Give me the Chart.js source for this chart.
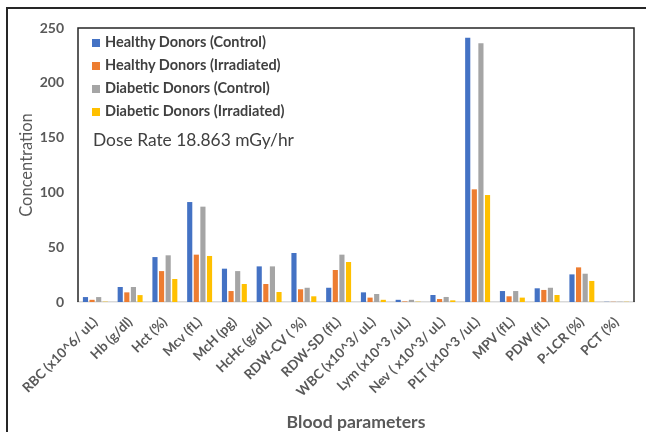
<!DOCTYPE html>
<html>
<head>
<meta charset="utf-8">
<script src="https://cdn.jsdelivr.net/npm/chart.js@4.4.1/dist/chart.umd.min.js"></script>
<style>
  html, body { margin: 0; padding: 0; background: #fff; }
  #wrap { position: relative; width: 646px; height: 432px; overflow: hidden; font-family: Lato, sans-serif; }
  #frame { position: absolute; left: 6px; top: 7px; width: 700px; height: 500px;
           border-left: 2px solid #262626; border-top: 2px solid #262626; pointer-events: none; }
  .leg { position: absolute; left: 92px; height: 20px; line-height: 20px; font-size: 14.5px;
         font-weight: bold; color: #404040; white-space: nowrap; }
  .leg i { display: inline-block; width: 8px; height: 8px; margin-right: 5px; vertical-align: 0px; }
  #dose { position: absolute; left: 93px; top: 129px; font-size: 17.4px; color: #404040; white-space: nowrap; }
</style>
</head>
<body>
<div id="wrap">
  <canvas id="c" width="646" height="432"></canvas>
  <div id="frame"></div>
  <div id="legend"></div>
  <div id="dose">Dose Rate 18.863 mGy/hr</div>
</div>
<script>
/* categories and values */
const CATEGORIES = ["RBC (x10^6/ uL)", "Hb (g/dl)", "Hct (%)", "Mcv (fL)", "McH (pg)", "HcHc (g/dL)",
  "RDW-CV ( %)", "RDW-SD (fL)", "WBC (x10^3/ uL)", "Lym (x10^3 /uL)", "Nev ( x10^3/ uL)",
  "PLT (x10^3 /uL)", "MPV (fL)", "PDW (fL)", "P-LCR (%)", "PCT (%)"];
const HEALTHY_CONTROL    = [4.5, 13.7, 41, 91.2, 30.4, 32.5, 44.7, 13, 8.8, 2, 6.4, 241, 10, 12.5, 25.2, 0.2];
const HEALTHY_IRRADIATED = [2, 8.8, 28.2, 43.2, 10, 16.4, 11.6, 29.2, 4, 0.5, 2.7, 102.8, 5.2, 11, 31.6, 0.2];
const DIABETIC_CONTROL   = [4.5, 13.7, 42.6, 87, 28.2, 32.5, 13, 43.2, 7.3, 2, 4.6, 236, 10, 13, 25.8, 0.2];
const DIABETIC_IRRADIATED= [0.3, 6.3, 21, 42, 16.4, 9.1, 5.2, 36.5, 2, 0.3, 1.5, 97.6, 4, 6.4, 19.2, 0.2];
const SERIES_NAMES = ["Healthy Donors (Control)", "Healthy Donors (Irradiated)",
  "Diabetic Donors (Control)", "Diabetic Donors (Irradiated)"];
const COLORS = ["#4472C4", "#ED7D31", "#A5A5A5", "#FFC000"];
const Y_TICKS = [0, 50, 100, 150, 200, 250];

const seriesData = [HEALTHY_CONTROL, HEALTHY_IRRADIATED, DIABETIC_CONTROL, DIABETIC_IRRADIATED];

/* html legend */
const legend = document.getElementById("legend");
SERIES_NAMES.forEach((name, i) => {
  const d = document.createElement("div");
  d.className = "leg";
  d.style.top = (32 + i * 23) + "px";
  d.innerHTML = `<i style="background:${COLORS[i]}"></i>${name}`;
  legend.appendChild(d);
});

/* plot box: dark top/left/right border */
const boxPlugin = {
  id: "box",
  afterDraw(chart) {
    const { ctx, chartArea: a } = chart;
    ctx.save();
    ctx.strokeStyle = "#262626";
    ctx.lineWidth = 1.5;
    ctx.beginPath();
    ctx.moveTo(a.left, a.bottom);
    ctx.lineTo(a.left, a.top);
    ctx.lineTo(a.right, a.top);
    ctx.lineTo(a.right, a.bottom);
    ctx.stroke();
    ctx.restore();
  }
};

new Chart(document.getElementById("c"), {
  type: "bar",
  data: {
    labels: CATEGORIES,
    datasets: seriesData.map((d, i) => ({
      label: SERIES_NAMES[i],
      data: d,
      backgroundColor: COLORS[i],
      borderWidth: 0,
      categoryPercentage: 0.76,
      barPercentage: 0.78
    }))
  },
  options: {
    responsive: false,
    animation: false,
    layout: { padding: { top: 28, right: 12, left: 0, bottom: 0 } },
    plugins: { legend: { display: false }, tooltip: { enabled: false } },
    scales: {
      x: {
        grid: { display: false, drawTicks: false },
        border: { color: "#D9D9D9", width: 1.5 },
        ticks: {
          autoSkip: false, maxRotation: 45, minRotation: 45, padding: 12,
          color: "#595959", font: { family: "Lato", size: 13.5, weight: "bold" }
        },
        title: {
          display: true, text: "Blood parameters", color: "#595959",
          font: { family: "Lato", size: 17.6, weight: "bold" }, padding: { top: 0, bottom: -1 }
        },
        afterFit: s => { s.height = 130; }
      },
      y: {
        min: 0, max: 250,
        afterBuildTicks: s => { s.ticks = Y_TICKS.map(v => ({ value: v })); },
        grid: { display: false, drawTicks: false },
        border: { display: false },
        ticks: {
          padding: 14, color: "#595959",
          font: { family: "Lato", size: 14, weight: "bold" }
        },
        title: {
          display: true, text: "Concentration", color: "#595959",
          font: { family: "Lato", size: 16.5 }, padding: { top: 17, bottom: 0 }
        },
        afterFit: s => { s.width = 78; }
      }
    }
  },
  plugins: [boxPlugin]
});
</script>
</body>
</html>
